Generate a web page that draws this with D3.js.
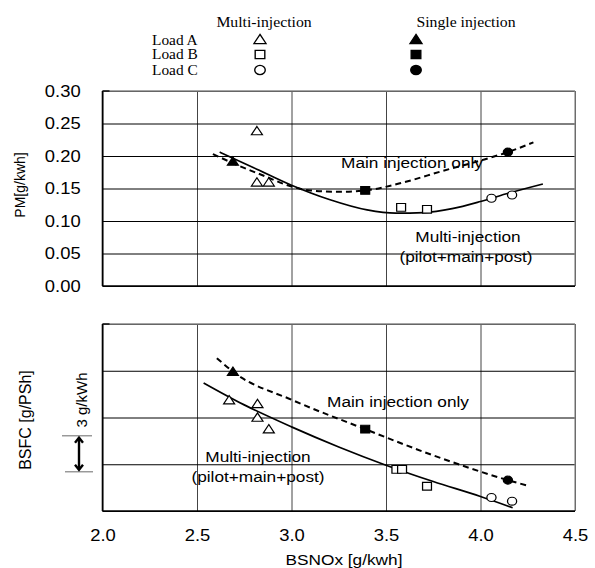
<!DOCTYPE html>
<html>
<head>
<meta charset="utf-8">
<script src="https://cdn.jsdelivr.net/npm/d3@7"></script>
<style>
  body { margin: 0; background: #fff; }
  svg { display: block; }
</style>
</head>
<body>
<svg id="chart" width="595" height="568"></svg>
<script>
// ---- Données ----
const xTicks = [2.0, 2.5, 3.0, 3.5, 4.0, 4.5];
const pmTicks = [0, 0.05, 0.10, 0.15, 0.20, 0.25, 0.30];
const bsfcGrid = [0, 1, 2, 3, 4];           // unités relatives (pas de graduation)
const bracketSpan = [0.84, 1.61];           // 3 g/kWh en unités de grille

// PM [g/kwh] : [BSNOx, PM]
const pmMultiA = [[2.817, 0.237], [2.817, 0.158], [2.88, 0.158]];
const pmMultiB = [[3.58, 0.121], [3.717, 0.118]];
const pmMultiC = [[4.058, 0.135], [4.167, 0.140]];
const pmSingleA = [[2.69, 0.190]];
const pmSingleB = [[3.39, 0.147]];
const pmSingleC = [[4.145, 0.206]];
const pmMultiCurve = [[2.62, 0.206], [2.8, 0.182], [3.0, 0.155], [3.2, 0.133], [3.4, 0.117],
  [3.55, 0.112], [3.7, 0.113], [3.85, 0.119], [4.0, 0.130], [4.15, 0.143], [4.33, 0.157]];
const pmSingleCurve = [[2.584, 0.203], [2.69, 0.189], [2.85, 0.170], [3.0, 0.153], [3.1, 0.147],
  [3.25, 0.145], [3.39, 0.147], [3.6, 0.160], [3.8, 0.177], [4.0, 0.193], [4.145, 0.206], [4.28, 0.221]];

// BSFC : [BSNOx, unités de grille]
const bsfcMultiA = [[2.67, 2.35], [2.82, 2.27], [2.82, 1.98], [2.88, 1.73]];
const bsfcMultiB = [[3.555, 0.89], [3.585, 0.89], [3.717, 0.53]];
const bsfcMultiC = [[4.058, 0.29], [4.167, 0.21]];
const bsfcSingleA = [[2.69, 2.96]];
const bsfcSingleB = [[3.39, 1.75]];
const bsfcSingleC = [[4.145, 0.66]];
const bsfcMultiCurve = [[2.535, 2.74], [2.75, 2.27], [3.0, 1.80], [3.25, 1.37], [3.5, 0.98],
  [3.75, 0.63], [4.0, 0.31], [4.17, 0.07]];
const bsfcSingleCurve = [[2.605, 3.27], [2.7, 2.95], [3.0, 2.38], [3.39, 1.75], [3.75, 1.19],
  [4.145, 0.66], [4.26, 0.53]];

// ---- Mise en page ----
const SANS = '"Liberation Sans", Arial, sans-serif';
const SERIF = '"Liberation Serif", "Times New Roman", serif';
const SX = 1.15;   // la figure d'origine est étirée horizontalement

const left = 102.5, right = 575;
const topPanel = { top: 91, bottom: 286 };
const botPanel = { top: 324, bottom: 511 };

const svg = d3.select('#chart');

const x = d3.scaleLinear().domain([2.0, 4.5]).range([left, right]);
const yPM = d3.scaleLinear().domain([0, 0.30]).range([topPanel.bottom, topPanel.top]);
const yBS = d3.scaleLinear().domain([0, 4]).range([botPanel.bottom, botPanel.top]);

function txt(g, px, py, s, opts = {}) {
  const { size = 15, anchor = 'start', family = SANS, sx = SX } = opts;
  return g.append('text')
    .attr('transform', `translate(${px},${py}) scale(${sx},1)`)
    .attr('text-anchor', anchor)
    .attr('font-family', family)
    .attr('font-size', size)
    .attr('fill', '#000')
    .text(s);
}

function vtxt(g, px, py, s, size) {
  return g.append('text')
    .attr('transform', `translate(${px},${py}) rotate(-90)`)
    .attr('text-anchor', 'middle')
    .attr('font-family', SANS)
    .attr('font-size', size)
    .attr('fill', '#000')
    .text(s);
}

// Dessine un panneau : grille, cadre
function drawPanel(yScale, panel, yTickValues, showYLabels, showXLabels) {
  const g = svg.append('g');
  const iw = right - left;
  const ih = panel.bottom - panel.top;

  // grille verticale + libellés x
  const xa = g.append('g')
    .attr('transform', `translate(0,${panel.bottom})`)
    .call(d3.axisBottom(x).tickValues(xTicks).tickSize(-ih).tickPadding(19)
      .tickFormat(showXLabels ? d3.format('.1f') : ''));
  xa.select('.domain').remove();
  xa.selectAll('line').attr('stroke', '#444').attr('stroke-width', 1);
  xa.selectAll('text')
    .attr('font-family', SANS).attr('font-size', 16).attr('fill', '#000')
    .attr('transform', `scale(${SX},1)`);

  // grille horizontale + libellés y
  const ya = g.append('g')
    .attr('transform', `translate(${left},0)`)
    .call(d3.axisLeft(yScale).tickValues(yTickValues).tickSize(-iw).tickPadding(19)
      .tickFormat(showYLabels ? d3.format('.2f') : ''));
  ya.select('.domain').remove();
  ya.selectAll('line').attr('stroke', '#000').attr('stroke-width', 1);
  ya.selectAll('text')
    .attr('font-family', SANS).attr('font-size', 16).attr('fill', '#000')
    .attr('transform', `scale(${SX},1)`);

  // cadre
  g.append('line').attr('x1', left).attr('x2', right).attr('y1', panel.top).attr('y2', panel.top)
    .attr('stroke', '#888').attr('stroke-width', 1.3);
  g.append('line').attr('x1', left).attr('x2', left + 7).attr('y1', panel.top).attr('y2', panel.top)
    .attr('stroke', '#000').attr('stroke-width', 1.3);
  g.append('line').attr('x1', right).attr('x2', right).attr('y1', panel.top).attr('y2', panel.bottom)
    .attr('stroke', '#888').attr('stroke-width', 1.2);
  g.append('line').attr('x1', left).attr('x2', right).attr('y1', panel.bottom).attr('y2', panel.bottom)
    .attr('stroke', '#000').attr('stroke-width', 1.6);
  g.append('line').attr('x1', left).attr('x2', left).attr('y1', panel.top).attr('y2', panel.bottom)
    .attr('stroke', '#000').attr('stroke-width', 1.6);
  return g;
}

function drawCurve(g, data, yScale, dashed) {
  const line = d3.line().x(d => x(d[0])).y(d => yScale(d[1])).curve(d3.curveMonotoneX);
  g.append('path')
    .attr('d', line(data))
    .attr('fill', 'none')
    .attr('stroke', '#000')
    .attr('stroke-width', dashed ? 2 : 1.7)
    .attr('stroke-dasharray', dashed ? '6,4' : null);
}

const symTri = d3.symbol().type(d3.symbolTriangle).size(40);
const symSq = d3.symbol().type(d3.symbolSquare).size(60);
const symCirc = d3.symbol().type(d3.symbolCircle).size(50);

function drawPoints(g, data, yScale, sym, filled) {
  g.selectAll(null)
    .data(data)
    .enter()
    .append('path')
    .attr('d', sym())
    .attr('transform', d => `translate(${x(d[0])},${yScale(d[1])}) scale(${SX},1)`)
    .attr('fill', filled ? '#000' : '#fff')
    .attr('stroke', '#000')
    .attr('stroke-width', 1.1);
}

// ---- Panneau PM ----
const gTop = drawPanel(yPM, topPanel, pmTicks, true, false);
drawCurve(gTop, pmSingleCurve, yPM, true);
drawCurve(gTop, pmMultiCurve, yPM, false);
drawPoints(gTop, pmMultiA, yPM, symTri, false);
drawPoints(gTop, pmMultiB, yPM, symSq, false);
drawPoints(gTop, pmMultiC, yPM, symCirc, false);
drawPoints(gTop, pmSingleA, yPM, symTri, true);
drawPoints(gTop, pmSingleB, yPM, symSq, true);
drawPoints(gTop, pmSingleC, yPM, symCirc, true);

txt(gTop, 412, 168, 'Main injection only', { anchor: 'middle' });
txt(gTop, 468, 242, 'Multi-injection', { anchor: 'middle' });
txt(gTop, 466, 262, '(pilot+main+post)', { anchor: 'middle' });
vtxt(svg, 25, 185, 'PM[g/kwh]', 14);

// ---- Panneau BSFC ----
const gBot = drawPanel(yBS, botPanel, bsfcGrid, false, true);
drawCurve(gBot, bsfcSingleCurve, yBS, true);
drawCurve(gBot, bsfcMultiCurve, yBS, false);
drawPoints(gBot, bsfcMultiA, yBS, symTri, false);
drawPoints(gBot, bsfcMultiB, yBS, symSq, false);
drawPoints(gBot, bsfcMultiC, yBS, symCirc, false);
drawPoints(gBot, bsfcSingleA, yBS, symTri, true);
drawPoints(gBot, bsfcSingleB, yBS, symSq, true);
drawPoints(gBot, bsfcSingleC, yBS, symCirc, true);

txt(gBot, 398, 407, 'Main injection only', { anchor: 'middle' });
txt(gBot, 258, 462, 'Multi-injection', { anchor: 'middle' });
txt(gBot, 258, 482, '(pilot+main+post)', { anchor: 'middle' });

vtxt(svg, 31, 420, 'BSFC [g/PSh]', 16);
vtxt(svg, 87, 400, '3 g/kWh', 15);

// repère 3 g/kWh
const yb0 = yBS(bracketSpan[1]), yb1 = yBS(bracketSpan[0]);
svg.append('line').attr('x1', 62).attr('x2', 92).attr('y1', yb0).attr('y2', yb0)
  .attr('stroke', '#999').attr('stroke-width', 1.5);
svg.append('line').attr('x1', 65).attr('x2', 93).attr('y1', yb1).attr('y2', yb1)
  .attr('stroke', '#999').attr('stroke-width', 1.5);
const ax = 79;
svg.append('line').attr('x1', ax).attr('x2', ax).attr('y1', yb0 + 2).attr('y2', yb1 - 2)
  .attr('stroke', '#000').attr('stroke-width', 2.4);
svg.append('path')
  .attr('d', `M${ax - 4},${yb0 + 7} L${ax},${yb0 + 2} L${ax + 4},${yb0 + 7}` +
             `M${ax - 4},${yb1 - 7} L${ax},${yb1 - 2} L${ax + 4},${yb1 - 7}`)
  .attr('fill', 'none').attr('stroke', '#000').attr('stroke-width', 2.4);

// titre axe x
txt(svg, 344, 565, 'BSNOx [g/kwh]', { anchor: 'middle' });

// ---- Légende ----
const loads = ['Load A', 'Load B', 'Load C'];
const legendSyms = [
  d3.symbol().type(d3.symbolTriangle).size(48),
  d3.symbol().type(d3.symbolSquare).size(70),
  d3.symbol().type(d3.symbolCircle).size(66)
];
const legendY = [40.5, 54.5, 70];
const gLeg = svg.append('g');
txt(gLeg, 264, 27, 'Multi-injection', { anchor: 'middle', family: SERIF, size: 15, sx: 1.05 });
txt(gLeg, 466, 27, 'Single injection', { anchor: 'middle', family: SERIF, size: 15, sx: 1.05 });
loads.forEach((name, i) => {
  txt(gLeg, 152, legendY[i] + 4.5, name, { family: SERIF, size: 14, sx: 1.1 });
  gLeg.append('path').attr('d', legendSyms[i]())
    .attr('transform', `translate(260,${legendY[i]}) scale(${SX},1)`)
    .attr('fill', '#fff').attr('stroke', '#000').attr('stroke-width', 1.2);
  gLeg.append('path').attr('d', legendSyms[i]())
    .attr('transform', `translate(416,${legendY[i]}) scale(${SX},1)`)
    .attr('fill', '#000').attr('stroke', '#000').attr('stroke-width', 1.2);
});
</script>
</body>
</html>
